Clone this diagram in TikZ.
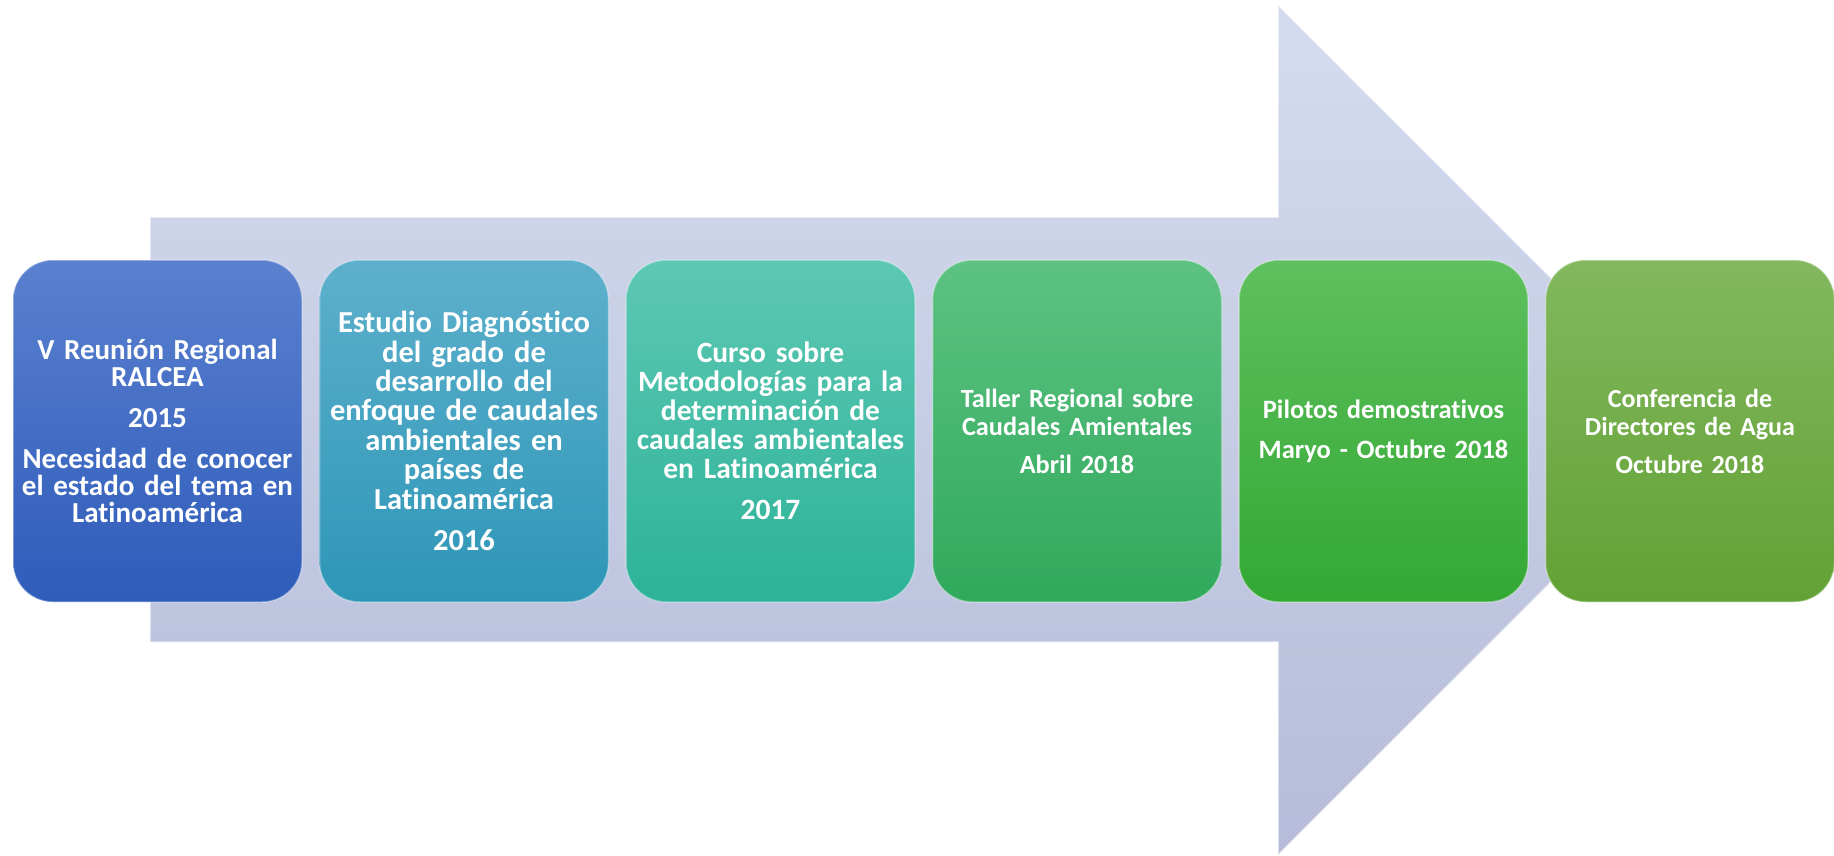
\documentclass[tikz,border=0pt]{standalone}
\usepackage{fontspec}
\setmainfont{Carlito}[Ligatures={TeX,NoCommon}]

\definecolor{flechaA}{HTML}{D5DCEF}
\definecolor{flechaB}{HTML}{B6BCD9}
\definecolor{azulA}{HTML}{5A80CF}
\definecolor{azulB}{HTML}{2E5CBA}
\definecolor{celesteA}{HTML}{5DB0CC}
\definecolor{celesteB}{HTML}{2E96B7}
\definecolor{turquesaA}{HTML}{5DC8B3}
\definecolor{turquesaB}{HTML}{2DB299}
\definecolor{verdeA}{HTML}{5DC282}
\definecolor{verdeB}{HTML}{30A95C}
\definecolor{pastoA}{HTML}{5EC05E}
\definecolor{pastoB}{HTML}{33A833}
\definecolor{olivaA}{HTML}{83B85E}
\definecolor{olivaB}{HTML}{62A135}

\begin{document}
\begin{tikzpicture}[x=1pt,y=-1pt,
    etapa/.style={rounded corners=40pt, minimum width=289pt, minimum height=342pt,
        text width=287pt, inner sep=0pt, align=center, text=white,
        draw=white, draw opacity=0.35, line width=1.5pt},
    tam/.style 2 args={font=\bfseries\fontsize{#1}{#2}\selectfont}]

    \useasboundingbox (0,0) rectangle (1834,855);

    % flecha de fondo
    \draw[draw=white, draw opacity=0.5, line width=1.5pt, top color=flechaA, bottom color=flechaB]
        (150,217) -- (1278,217) -- (1278,5) -- (1703,430) -- (1278,855)
        -- (1278,642) -- (150,642) -- cycle;

    % etapas
    \node[etapa, tam={29}{27}, top color=azulA, bottom color=azulB] (reunion) at (157.5,431)
        {V Reunión Regional\\RALCEA\\[14pt]2015\\[14pt]Necesidad de conocer\\el estado del tema en\\Latinoamérica};
    \node[etapa, tam={30.5}{29.4}, top color=celesteA, bottom color=celesteB] (estudio) at (464,431)
        {Estudio Diagnóstico\\del grado de\\desarrollo del\\enfoque de caudales\\ambientales en\\países de\\Latinoamérica\\[12pt]2016};
    \node[etapa, tam={29.5}{29}, top color=turquesaA, bottom color=turquesaB] (curso) at (770.5,431)
        {Curso sobre\\Metodologías para la\\determinación de\\caudales ambientales\\en Latinoamérica\\[12pt]2017};
    \node[etapa, tam={26.3}{28}, top color=verdeA, bottom color=verdeB] (taller) at (1077,431)
        {Taller Regional sobre\\Caudales Amientales\\[10pt]Abril 2018};
    \node[etapa, tam={26.5}{28}, top color=pastoA, bottom color=pastoB] (pilotos) at (1383.5,431)
        {Pilotos demostrativos\\[12pt]Maryo - Octubre 2018};
    \node[etapa, tam={26}{28}, top color=olivaA, bottom color=olivaB] (conferencia) at (1690,431)
        {Conferencia de\\Directores de Agua\\[10pt]Octubre 2018};

\end{tikzpicture}
\end{document}
